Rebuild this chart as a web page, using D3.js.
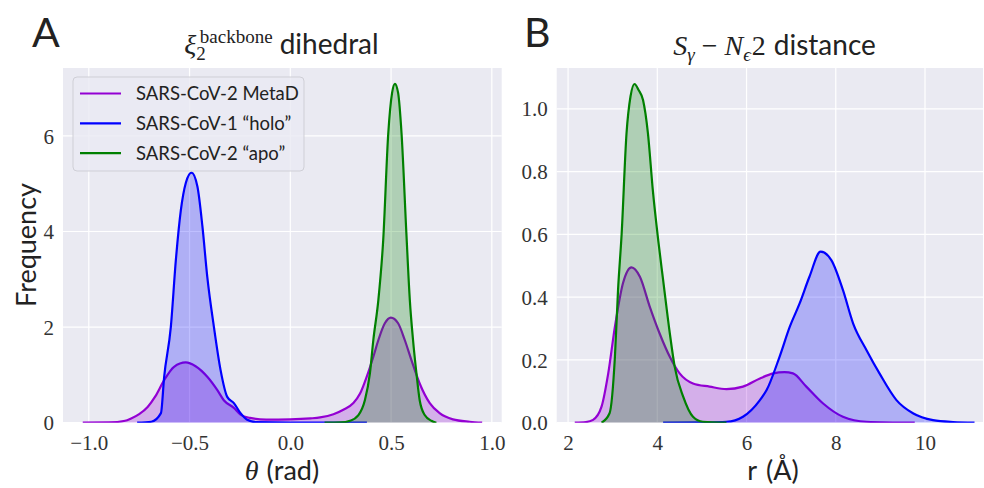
<!DOCTYPE html>
<html>
<head>
<meta charset="utf-8">
<script src="https://cdn.jsdelivr.net/npm/d3@7"></script>
<style>
  html, body { margin: 0; padding: 0; background: #fff; }
  svg { display: block; }
</style>
</head>
<body>
<div id="chart"></div>
<script>
// series labels + colours (legend order)
const seriesNames = ["SARS-CoV-2 MetaD", "SARS-CoV-1 \u201Cholo\u201D", "SARS-CoV-2 \u201Capo\u201D"];
const seriesColors = ["#9400D3", "#0000FF", "#008000"];

// panel A: xi_2 backbone dihedral, [theta (rad), density]
const thetaMetaD = [[-1.03,0],[-0.9,0.005],[-0.82,0.04],[-0.79,0.09],[-0.75,0.18],[-0.708,0.33],[-0.67,0.55],[-0.626,0.89],[-0.577,1.17],[-0.519,1.26],[-0.47,1.18],[-0.412,0.96],[-0.362,0.68],[-0.33,0.47],[-0.28,0.31],[-0.247,0.17],[-0.2,0.1],[-0.12,0.065],[0,0.07],[0.1,0.09],[0.148,0.11],[0.214,0.175],[0.263,0.27],[0.313,0.41],[0.346,0.61],[0.379,0.96],[0.412,1.38],[0.437,1.73],[0.469,2.08],[0.499,2.2],[0.535,2.08],[0.568,1.73],[0.601,1.31],[0.642,0.82],[0.692,0.41],[0.741,0.2],[0.807,0.07],[0.89,0.02],[0.952,0]];
const thetaHolo = [[-0.76,0],[-0.69,0.02],[-0.642,0.2],[-0.626,0.96],[-0.593,2.0],[-0.568,3.4],[-0.543,4.45],[-0.519,5.01],[-0.49,5.23],[-0.461,4.94],[-0.436,4.1],[-0.412,3.05],[-0.379,2.0],[-0.346,1.1],[-0.313,0.54],[-0.28,0.41],[-0.247,0.2],[-0.214,0.06],[-0.17,0.01],[0,0],[0.38,0]];
const thetaApo = [[0.17,0],[0.25,0.005],[0.296,0.04],[0.338,0.16],[0.37,0.47],[0.395,1.03],[0.412,1.73],[0.437,2.57],[0.461,3.82],[0.486,6.05],[0.505,6.9],[0.519,7.09],[0.535,6.9],[0.552,6.05],[0.576,3.96],[0.593,2.57],[0.609,1.73],[0.626,1.03],[0.642,0.47],[0.667,0.16],[0.7,0.04],[0.725,0]];

// panel B: S_gamma - N_eps2 distance, [r (A), density]
const distMetaD = [[2.15,0],[2.4,0.002],[2.56,0.009],[2.75,0.051],[2.9,0.157],[3.05,0.306],[3.23,0.444],[3.42,0.495],[3.61,0.465],[3.83,0.37],[4.05,0.285],[4.28,0.21],[4.5,0.157],[4.8,0.125],[5.17,0.115],[5.55,0.107],[5.92,0.115],[6.3,0.141],[6.6,0.157],[6.85,0.161],[7.04,0.157],[7.34,0.115],[7.71,0.062],[8.16,0.019],[8.69,0.003],[9.77,0]];
const distHolo = [[4.13,0],[5.0,0.001],[5.55,0.003],[5.92,0.019],[6.3,0.072],[6.45,0.104],[6.74,0.21],[6.97,0.306],[7.19,0.38],[7.41,0.465],[7.66,0.545],[7.9,0.518],[8.16,0.423],[8.39,0.316],[8.69,0.231],[8.98,0.157],[9.36,0.072],[9.73,0.03],[10.18,0.008],[10.63,0.002],[11.11,0]];
const distApo = [[2.75,0],[2.93,0.03],[3.05,0.21],[3.12,0.423],[3.2,0.6],[3.31,0.922],[3.4,1.04],[3.49,1.079],[3.58,1.06],[3.68,1.028],[3.79,0.922],[3.9,0.74],[4.02,0.582],[4.13,0.455],[4.28,0.285],[4.39,0.178],[4.58,0.083],[4.8,0.019],[5.02,0.003],[5.55,0]];

// ticks
const thetaTicks = [-1.0, -0.5, 0.0, 0.5, 1.0];
const freqTicksA = [0, 2, 4, 6];
const distTicks = [2, 4, 6, 8, 10];
const freqTicksB = [0.0, 0.2, 0.4, 0.6, 0.8, 1.0];

const width = 984, height = 488;
const sans = "Lato, 'Open Sans', sans-serif";
const serif = "'Liberation Serif', 'DejaVu Serif', serif";

const svg = d3.select("#chart").append("svg")
  .attr("width", width)
  .attr("height", height);

const fmtMinus = s => s.replace("-", "\u2212");

function drawPanel(opts) {
  const { left, right, top, bottom, xDomain, yDomain, xTicks, yTicks, xFmt, yFmt, series, id } = opts;
  const x = d3.scaleLinear().domain(xDomain).range([left, right]);
  const y = d3.scaleLinear().domain(yDomain).range([bottom, top]);

  svg.append("rect")
    .attr("x", left).attr("y", top)
    .attr("width", right - left).attr("height", bottom - top)
    .attr("fill", "#EAEAF2");

  svg.append("clipPath").attr("id", id)
    .append("rect")
    .attr("x", left).attr("y", top)
    .attr("width", right - left).attr("height", bottom - top);

  // grid
  const grid = svg.append("g");
  grid.selectAll(".vx").data(xTicks).join("line")
    .attr("x1", d => x(d)).attr("x2", d => x(d))
    .attr("y1", top).attr("y2", bottom)
    .attr("stroke", "#fff").attr("stroke-width", 1.2);
  grid.selectAll(".hy").data(yTicks).join("line")
    .attr("y1", d => y(d)).attr("y2", d => y(d))
    .attr("x1", left).attr("x2", right)
    .attr("stroke", "#fff").attr("stroke-width", 1.2);

  // tick labels via axes, no tick marks or domain
  const xAxis = svg.append("g")
    .attr("transform", `translate(0,${bottom})`)
    .call(d3.axisBottom(x).tickValues(xTicks).tickFormat(xFmt).tickSize(0).tickPadding(0));
  const yAxis = svg.append("g")
    .attr("transform", `translate(${left},0)`)
    .call(d3.axisLeft(y).tickValues(yTicks).tickFormat(yFmt).tickSize(0).tickPadding(0));
  [xAxis, yAxis].forEach(a => {
    a.select(".domain").remove();
    a.selectAll("text")
      .attr("font-family", serif)
      .attr("font-size", 21)
      .attr("fill", "#333");
  });
  xAxis.selectAll("text").attr("dy", null).attr("y", 27);
  yAxis.selectAll("text").attr("x", -9).attr("dy", "0.34em");

  const area = d3.area().x(d => x(d[0])).y0(y(0)).y1(d => y(d[1])).curve(d3.curveMonotoneX);
  const line = d3.line().x(d => x(d[0])).y(d => y(d[1])).curve(d3.curveMonotoneX);

  const g = svg.append("g").attr("clip-path", `url(#${id})`);
  series.forEach((s, i) => {
    g.append("path").datum(s)
      .attr("d", area)
      .attr("fill", seriesColors[i])
      .attr("fill-opacity", 0.25);
    g.append("path").datum(s)
      .attr("d", line)
      .attr("fill", "none")
      .attr("stroke", seriesColors[i])
      .attr("stroke-width", 2.2)
      .attr("stroke-linejoin", "round");
  });
  return { x, y };
}

// panel A
drawPanel({
  id: "clipA",
  left: 63, right: 501.7, top: 68, bottom: 422.7,
  xDomain: [-1.128, 1.049], yDomain: [0, 7.42],
  xTicks: thetaTicks, yTicks: freqTicksA,
  xFmt: d => fmtMinus(d3.format(".1f")(d)), yFmt: d3.format("d"),
  series: [thetaMetaD, thetaHolo, thetaApo]
});

// panel B
drawPanel({
  id: "clipB",
  left: 556.7, right: 983, top: 68, bottom: 422.7,
  xDomain: [1.745, 11.3], yDomain: [0, 1.13],
  xTicks: distTicks, yTicks: freqTicksB,
  xFmt: d3.format("d"), yFmt: d3.format(".1f"),
  series: [distMetaD, distHolo, distApo]
});

// panel letters
svg.append("text").attr("x", 32).attr("y", 47)
  .attr("font-family", sans).attr("font-size", 41).attr("fill", "#222").text("A");
svg.append("text").attr("x", 524).attr("y", 47)
  .attr("font-family", sans).attr("font-size", 41).attr("fill", "#222").text("B");

// titles, built from pieces and centred afterwards
function centred(textSel, cx) {
  const bb = textSel.node().getBBox();
  textSel.attr("transform", `translate(${cx - (bb.x + bb.width / 2)},0)`);
}

const titleA = svg.append("text").attr("x", 0).attr("y", 54).attr("fill", "#222");
titleA.append("tspan").attr("font-family", serif).attr("font-style", "italic").attr("font-size", 28).text("\u03BE");
titleA.append("tspan").attr("font-family", serif).attr("font-size", 19).attr("dy", 6).text("2");
titleA.append("tspan").attr("font-family", serif).attr("font-size", 19).attr("dx", -6).attr("dy", -17).text("backbone");
titleA.append("tspan").attr("font-family", sans).attr("font-size", 28).attr("dx", 7).attr("dy", 11).text("dihedral");
centred(titleA, 281.5);

const titleB = svg.append("text").attr("x", 0).attr("y", 55).attr("fill", "#222");
titleB.append("tspan").attr("font-family", serif).attr("font-style", "italic").attr("font-size", 28).text("S");
titleB.append("tspan").attr("font-family", serif).attr("font-style", "italic").attr("font-size", 19).attr("dy", 6).text("\u03B3");
titleB.append("tspan").attr("font-family", serif).attr("font-size", 28).attr("dy", -6).attr("dx", 7).text("\u2212");
titleB.append("tspan").attr("font-family", serif).attr("font-style", "italic").attr("font-size", 28).attr("dx", 7).text("N");
titleB.append("tspan").attr("font-family", serif).attr("font-style", "italic").attr("font-size", 19).attr("dy", 6).text("\u03F5");
titleB.append("tspan").attr("font-family", serif).attr("font-size", 28).attr("dy", -6).attr("dx", 1).text("2");
titleB.append("tspan").attr("font-family", sans).attr("font-size", 28).attr("dx", 8).text("distance");
centred(titleB, 774.5);

// axis labels
svg.append("text")
  .attr("transform", "translate(36,245) rotate(-90)")
  .attr("text-anchor", "middle")
  .attr("font-family", sans).attr("font-size", 27).attr("fill", "#222")
  .text("Frequency");

const xlabA = svg.append("text").attr("y", 480).attr("fill", "#222");
xlabA.append("tspan").attr("font-family", serif).attr("font-style", "italic").attr("font-size", 28).text("\u03B8");
xlabA.append("tspan").attr("font-family", sans).attr("font-size", 27).attr("dx", 8).text("(rad)");
centred(xlabA, 282);

const xlabB = svg.append("text").attr("y", 480).attr("fill", "#222")
  .attr("font-family", sans).attr("font-size", 27);
xlabB.append("tspan").text("r");
xlabB.append("tspan").attr("dx", 9).text("(\u00C5)");
centred(xlabB, 773);

// legend
const legend = svg.append("g");
legend.append("rect")
  .attr("x", 73).attr("y", 77).attr("width", 231).attr("height", 94).attr("rx", 4)
  .attr("fill", "#EAEAF2").attr("fill-opacity", 0.8)
  .attr("stroke", "#cfcfd6").attr("stroke-width", 1);
const rows = legend.selectAll(".row").data(seriesNames).join("g")
  .attr("transform", (d, i) => `translate(0,${93.5 + i * 29.8})`);
rows.append("line")
  .attr("x1", 80).attr("x2", 121)
  .attr("stroke", (d, i) => seriesColors[i]).attr("stroke-width", 2.2);
rows.append("text")
  .attr("x", 136).attr("dy", "0.35em")
  .attr("font-family", sans).attr("font-size", 18.5).attr("fill", "#222")
  .text(d => d);
</script>
</body>
</html>
